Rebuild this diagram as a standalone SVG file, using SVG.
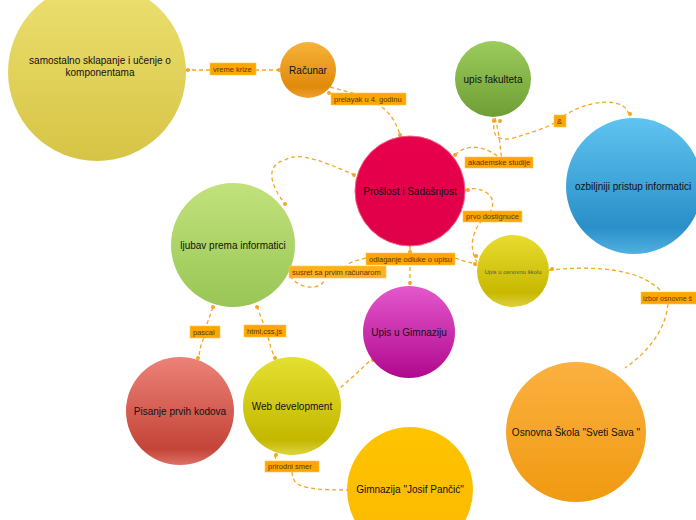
<svg xmlns="http://www.w3.org/2000/svg" width="696" height="520" viewBox="0 0 696 520">
<defs>
<linearGradient id="gY" x1="0" y1="0" x2="0" y2="1"><stop offset="0" stop-color="#ece070"/><stop offset="1" stop-color="#d6c445"/></linearGradient>
<linearGradient id="gO" x1="0" y1="0" x2="0" y2="1"><stop offset="0" stop-color="#f7b23a"/><stop offset="0.8" stop-color="#e08a0a"/><stop offset="1" stop-color="#f0a030"/></linearGradient>
<linearGradient id="gG" x1="0" y1="0" x2="0" y2="1"><stop offset="0" stop-color="#9ccc5c"/><stop offset="1" stop-color="#6e9e35"/></linearGradient>
<linearGradient id="gB" x1="0" y1="0" x2="0" y2="1"><stop offset="0" stop-color="#5fc4f0"/><stop offset="0.8" stop-color="#2a8fc8"/><stop offset="1" stop-color="#50b0e0"/></linearGradient>
<linearGradient id="gR" x1="0" y1="0" x2="0" y2="1"><stop offset="0" stop-color="#e8004c"/><stop offset="1" stop-color="#e0004a"/></linearGradient>
<linearGradient id="gL" x1="0" y1="0" x2="0" y2="1"><stop offset="0" stop-color="#c2e27c"/><stop offset="1" stop-color="#98c655"/></linearGradient>
<linearGradient id="gU" x1="0" y1="0" x2="0" y2="1"><stop offset="0" stop-color="#e8dc30"/><stop offset="0.8" stop-color="#c8b800"/><stop offset="1" stop-color="#ddd040"/></linearGradient>
<linearGradient id="gM" x1="0" y1="0" x2="0" y2="1"><stop offset="0" stop-color="#e458cc"/><stop offset="1" stop-color="#b0088e"/></linearGradient>
<linearGradient id="gP" x1="0" y1="0" x2="0" y2="1"><stop offset="0" stop-color="#ec8278"/><stop offset="0.85" stop-color="#c44438"/><stop offset="1" stop-color="#dd7066"/></linearGradient>
<linearGradient id="gW" x1="0" y1="0" x2="0" y2="1"><stop offset="0" stop-color="#e4e030"/><stop offset="0.85" stop-color="#c4b800"/><stop offset="1" stop-color="#dcd440"/></linearGradient>
<linearGradient id="gS" x1="0" y1="0" x2="0" y2="1"><stop offset="0" stop-color="#fbb040"/><stop offset="1" stop-color="#f09a10"/></linearGradient>
<linearGradient id="gJ" x1="0" y1="0" x2="0" y2="1"><stop offset="0" stop-color="#ffc400"/><stop offset="1" stop-color="#fbb800"/></linearGradient>
</defs>
<style>
.c{fill:none;stroke:#f5a623;stroke-width:1.3;stroke-dasharray:4 3}
.d{fill:#f5a623}
.lb{fill:#ffa500;stroke:#ffc850;stroke-width:0.6}
.lt{font-family:"Liberation Sans",Arial,sans-serif;font-size:7.5px;fill:#5a3a00}
.nt{font-family:"Liberation Sans",Arial,sans-serif;font-size:10px;fill:#111;text-anchor:middle}
</style>
<g id="connectors">
<path class="c" d="M185,70 L280,70"/>
<path class="c" d="M330,87 C360,95 390,100 400,135"/>
<path class="c" d="M495,118 C500,135 500,150 502,160 M493,118 C495,130 490,140 510,139 C540,130 555,125 560,118 C580,105 600,100 615,103 C625,105 628,110 630,118"/>
<path class="c" d="M455,155 C470,140 490,150 500,158"/>
<path class="c" d="M465,190 C480,185 500,195 490,212 M482,220 C470,235 470,250 477,262"/>
<path class="c" d="M410,246 L410,286 M455,258 C465,262 470,262 477,265 M366,258 C350,262 345,264 345,270"/>
<path class="c" d="M355,175 C330,165 300,150 285,160 C265,165 270,185 285,204 M290,276 C300,290 320,290 325,280"/>
<path class="c" d="M549,270 C600,265 640,270 660,290 M668,304 C665,330 650,350 625,368"/>
<path class="c" d="M213,307 C210,315 208,322 206,326 M204,338 C200,345 200,352 198,360"/>
<path class="c" d="M257,306 C260,315 262,320 264,325 M268,337 C270,345 272,352 275,358"/>
<path class="c" d="M335,392 C350,380 360,370 373,358"/>
<path class="c" d="M275,455 C275,460 278,462 280,462 M292,472 C293,485 298,490 347,490"/>
<circle class="d" cx="188" cy="70" r="2"/><circle class="d" cx="279" cy="70" r="2"/>
<circle class="d" cx="329" cy="93" r="2"/><circle class="d" cx="400" cy="135" r="2"/>
<circle class="d" cx="494" cy="121" r="2"/><circle class="d" cx="500" cy="121" r="2"/><circle class="d" cx="630" cy="114" r="2"/>
<circle class="d" cx="455" cy="155" r="2"/><circle class="d" cx="468" cy="190" r="2"/>
<circle class="d" cx="476" cy="256" r="2"/><circle class="d" cx="475" cy="264" r="2"/>
<circle class="d" cx="410" cy="252" r="2"/><circle class="d" cx="410" cy="283" r="2"/>
<circle class="d" cx="354" cy="175" r="2"/><circle class="d" cx="285" cy="204" r="2"/>
<circle class="d" cx="552" cy="269" r="2"/>
<circle class="d" cx="213" cy="307" r="2"/><circle class="d" cx="198" cy="358" r="2"/>
<circle class="d" cx="257" cy="307" r="2"/><circle class="d" cx="275" cy="358" r="2"/>
<circle class="d" cx="337" cy="392" r="2"/><circle class="d" cx="373" cy="360" r="2"/>
<circle class="d" cx="276" cy="455" r="2"/>
</g>
<g id="n1"><circle cx="97" cy="72" r="89" fill="url(#gY)"/><text class="nt" x="100" y="64">samostalno sklapanje i učenje o</text><text class="nt" x="100" y="76">komponentama</text></g>
<g id="n2"><circle cx="308" cy="70" r="28" fill="url(#gO)"/><text class="nt" x="308" y="74">Računar</text></g>
<g id="n3"><circle cx="493" cy="79" r="38" fill="url(#gG)"/><text class="nt" x="493" y="83">upis fakulteta</text></g>
<g id="n4"><circle cx="634" cy="186" r="68" fill="url(#gB)"/><text class="nt" x="575" y="190" style="text-anchor:start">ozbiljniji pristup informatici</text></g>
<g id="n5"><circle cx="410" cy="191" r="55" fill="url(#gR)" stroke="#f06080" stroke-width="1"/><text class="nt" x="410" y="195">Prošlost i Sadašnjost</text></g>
<g id="n6"><circle cx="233" cy="245" r="62" fill="url(#gL)"/><text class="nt" x="233" y="249">ljubav prema informatici</text></g>
<g id="n7"><circle cx="513" cy="271" r="36" fill="url(#gU)"/><text class="nt" x="513" y="274" style="font-size:6px;fill:#555">Upis u osnovnu školu</text></g>
<g id="n8"><circle cx="409" cy="332" r="46" fill="url(#gM)"/><text class="nt" x="409" y="336">Upis u Gimnaziju</text></g>
<g id="n9"><circle cx="180" cy="411" r="54" fill="url(#gP)"/><text class="nt" x="180" y="415">Pisanje prvih kodova</text></g>
<g id="n10"><circle cx="292" cy="406" r="49" fill="url(#gW)"/><text class="nt" x="292" y="410">Web development</text></g>
<g id="n11"><circle cx="576" cy="432" r="70" fill="url(#gS)"/><text class="nt" x="576" y="436">Osnovna Škola "Sveti Sava "</text></g>
<g id="n12"><circle cx="410" cy="490" r="63" fill="url(#gJ)"/><text class="nt" x="410" y="493">Gimnazija "Josif Pančić"</text></g>
<g id="labels">
<rect class="lb" x="210" y="63" width="46" height="12"/><text class="lt" x="213" y="72">vreme krize</text>
<rect class="lb" x="331" y="93" width="75" height="12"/><text class="lt" x="334" y="102">prelayak u 4. godinu</text>
<rect class="lb" x="554" y="115" width="12" height="12"/><text class="lt" x="557" y="124">&amp;</text>
<rect class="lb" x="465" y="157" width="68" height="11"/><text class="lt" x="468" y="165">akademske studije</text>
<rect class="lb" x="463" y="211" width="59" height="11"/><text class="lt" x="466" y="219">prvo dostignuće</text>
<rect class="lb" x="366" y="253" width="89" height="12"/><text class="lt" x="369" y="262">odlaganje odluke o upisu</text>
<rect class="lb" x="289" y="266" width="97" height="12" style="fill:#ffb020"/><text class="lt" x="292" y="275">susret sa prvim računarom</text>
<rect class="lb" x="641" y="292" width="56" height="12"/><text class="lt" x="643" y="301" style="font-size:7px">izbor osnovne š</text>
<rect class="lb" x="190" y="326" width="30" height="12"/><text class="lt" x="193" y="335">pascal</text>
<rect class="lb" x="244" y="325" width="42" height="12"/><text class="lt" x="247" y="334">html,css,js</text>
<rect class="lb" x="265" y="461" width="54" height="11"/><text class="lt" x="268" y="469">prirodni smer</text>
</g>
</svg>
